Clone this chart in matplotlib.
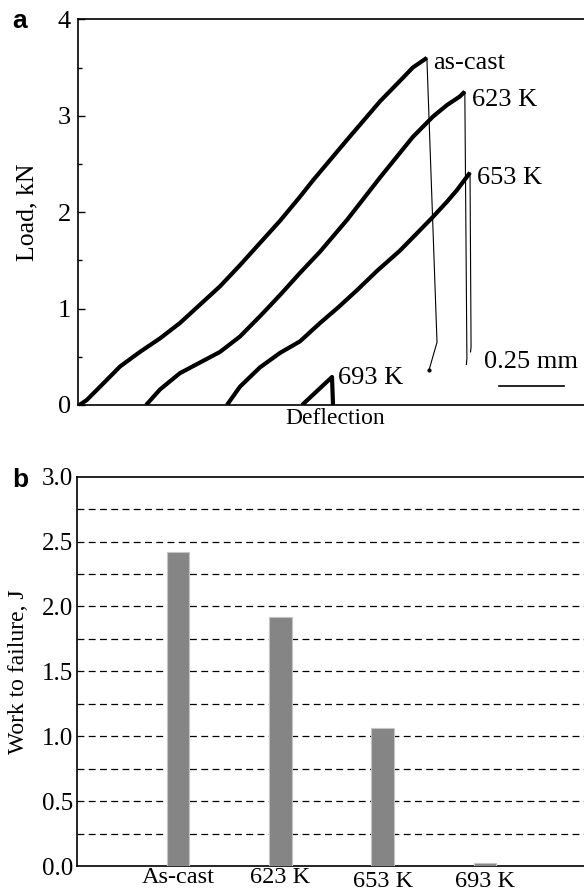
import numpy as np
import matplotlib
matplotlib.use("Agg")
from matplotlib import pyplot as plt

# (a) load-deflection curves, deflection in mm, load in kN
cast_x = [0.005, 0.033, 0.085, 0.162, 0.238, 0.315, 0.392, 0.469, 0.546, 0.623, 0.700,
          0.777, 0.854, 0.904, 1.035, 1.162, 1.238, 1.288, 1.342]
cast_y = [0.00, 0.05, 0.19, 0.40, 0.55, 0.69, 0.85, 1.04, 1.23, 1.45, 1.68,
          1.91, 2.16, 2.33, 2.75, 3.15, 3.36, 3.50, 3.60]
cast_drop_x = [1.342, 1.381, 1.350]
cast_drop_y = [3.60, 0.65, 0.36]

k623_x = [0.262, 0.315, 0.392, 0.469, 0.546, 0.623, 0.700, 0.777, 0.854, 0.931,
          1.035, 1.162, 1.288, 1.365, 1.419, 1.469, 1.488]
k623_y = [0.00, 0.16, 0.33, 0.44, 0.55, 0.71, 0.92, 1.14, 1.37, 1.59,
          1.92, 2.36, 2.78, 2.99, 3.11, 3.20, 3.25]
k623_drop_x = [1.488, 1.496, 1.494]
k623_drop_y = [3.25, 0.48, 0.42]

k653_x = [0.573, 0.623, 0.700, 0.777, 0.854, 0.931, 1.000, 1.073, 1.150, 1.238,
          1.300, 1.365, 1.420, 1.458, 1.508]
k653_y = [0.00, 0.19, 0.39, 0.54, 0.66, 0.85, 1.01, 1.19, 1.39, 1.60,
          1.77, 1.95, 2.11, 2.23, 2.41]
k653_drop_x = [1.508, 1.512, 1.510]
k653_drop_y = [2.41, 0.60, 0.55]

k693_x = [0.862, 0.977, 0.981]
k693_y = [0.00, 0.29, 0.00]

# (b) work to failure
samples = ["As-cast", "623 K", "653 K", "693 K"]
work = [2.42, 1.92, 1.06, 0.02]

serif = "Liberation Serif"
plt.rcParams["font.family"] = serif

fig = plt.figure(figsize=(5.84, 8.94), dpi=100)

# ---- panel a
ax1 = fig.add_axes([0.1336, 0.547, 0.880, 0.4314])
for xs, ys in [(cast_x, cast_y), (k623_x, k623_y), (k653_x, k653_y), (k693_x, k693_y)]:
    ax1.plot(xs, ys, color="black", lw=3.0, solid_capstyle="butt", solid_joinstyle="round")
for xs, ys in [(cast_drop_x, cast_drop_y), (k623_drop_x, k623_drop_y), (k653_drop_x, k653_drop_y)]:
    ax1.plot(xs, ys, color="black", lw=0.8)
ax1.plot([1.35], [0.36], "o", color="black", ms=2)

ax1.set_xlim(0, 1.977)
ax1.set_ylim(0, 4)
ax1.set_yticks([0, 1, 2, 3, 4])
ax1.set_yticks([0.5, 1.5, 2.5, 3.5], minor=True)
ax1.set_xticks([])
ax1.tick_params(axis="y", direction="in", length=5, width=1, labelsize=19, pad=5)
ax1.tick_params(axis="y", which="minor", direction="in", length=3, width=1)
ax1.spines["right"].set_visible(False)
for s in ["left", "top", "bottom"]:
    ax1.spines[s].set_linewidth(1.2)
ax1.set_ylabel("Load, kN", fontsize=18.5, labelpad=14)
ax1.set_xlabel("Deflection", fontsize=17, labelpad=2)

ax1.text(1.365, 3.55, "as-cast", fontsize=19, va="center", ha="left")
ax1.text(1.515, 3.16, "623 K", fontsize=19, va="center", ha="left")
ax1.text(1.533, 2.35, "653 K", fontsize=19, va="center", ha="left")
ax1.text(1.000, 0.28, "693 K", fontsize=19, va="center", ha="left")
ax1.text(1.744, 0.45, "0.25 mm", fontsize=19, va="center", ha="center")
ax1.plot([1.619, 1.869], [0.20, 0.20], color="black", lw=1.2)

fig.text(0.033, 0.977, "a", fontsize=19, fontweight="bold", family="Liberation Sans",
         ha="center", va="center")

# ---- panel b
ax2 = fig.add_axes([0.1318, 0.0313, 0.882, 0.4355])
pos = np.arange(len(samples))
ax2.bar(pos, work, width=0.22, color="#858585", edgecolor="#c4c4c4", lw=0.8, zorder=3)
for g in np.arange(0.25, 3.0, 0.25):
    ax2.axhline(g, color="black", lw=0.9, ls=(0, (5.5, 3.5)), zorder=1)
ax2.set_xlim(-0.987, 4.047)
ax2.set_ylim(0, 3.0)
ax2.set_yticks(np.arange(0, 3.01, 0.5))
ax2.set_yticklabels(["%.1f" % v for v in np.arange(0, 3.01, 0.5)])
ax2.set_xticks(pos)
ax2.set_xticklabels(samples)
ax2.tick_params(axis="y", direction="in", length=0, labelsize=18, pad=3)
ax2.tick_params(axis="x", length=0, labelsize=17.5, pad=1)
for i, lab in enumerate(ax2.get_xticklabels()):
    if i >= 2:
        lab.set_y(-0.01)
ax2.spines["right"].set_visible(False)
for s in ["left", "top", "bottom"]:
    ax2.spines[s].set_linewidth(1.2)
ax2.set_ylabel("Work to failure, J", fontsize=17, labelpad=9)

fig.text(0.035, 0.463, "b", fontsize=19, fontweight="bold", family="Liberation Sans",
         ha="center", va="center")

fig.savefig("out.png", dpi=100)
